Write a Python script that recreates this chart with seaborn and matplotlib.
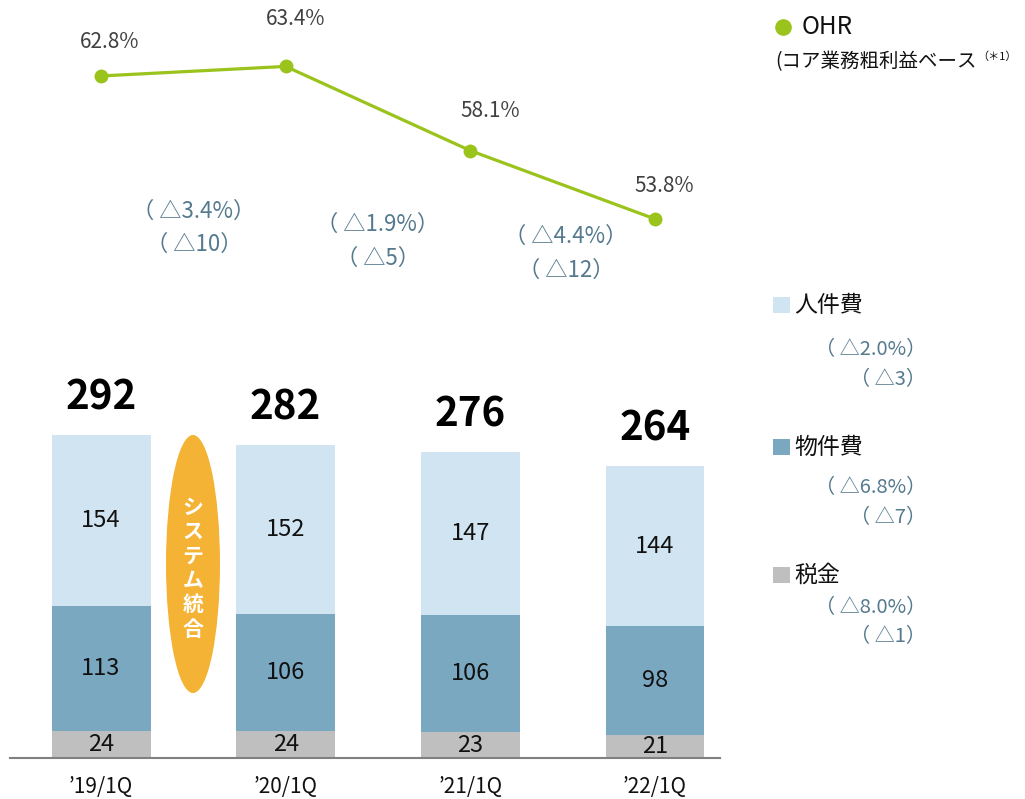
import numpy as np
import matplotlib
matplotlib.use("Agg")
import matplotlib.pyplot as plt
from matplotlib.patches import Ellipse, Rectangle
from matplotlib.lines import Line2D
import seaborn as sns

# data
periods = ["’19/1Q", "’20/1Q", "’21/1Q", "’22/1Q"]
tax = [24, 24, 23, 21]
property_cost = [113, 106, 106, 98]
personnel = [154, 152, 147, 144]
totals = [292, 282, 276, 264]
ohr = [62.8, 63.4, 58.1, 53.8]
yoy_pct = ["3.4%", "1.9%", "4.4%"]
yoy_amt = ["10", "5", "12"]
cost_names = ["人件費", "物件費", "税金"]
cost_pct = ["2.0%", "6.8%", "8.0%"]
cost_amt = ["3", "7", "1"]

# colors
C_PERS = "#d0e5f1"
C_PROP = "#7aa8c1"
C_TAX = "#bfbfbf"
C_LINE = "#9ac31c"
C_NOTE = "#557a8e"
C_ORANGE = "#f5b335"

W, H = 1025, 799


def px(x, y):
    return x / W, 1 - y / H


sns.set_theme(style="white")
plt.rcParams["font.family"] = ["Noto Sans CJK JP", "DejaVu Sans"]

fig = plt.figure(figsize=(W / 100, H / 100), dpi=100)
ax = fig.add_axes([10 / W, 1 - 758 / H, 710 / W, 758 / H])

bar_kws = dict(width=0.536, saturation=1, errorbar=None, edgecolor="none", linewidth=0, ax=ax)
bottom2 = np.array(tax)
bottom3 = bottom2 + np.array(property_cost)
sns.barplot(x=periods, y=tax, color=C_TAX, **bar_kws)
sns.barplot(x=periods, y=property_cost, bottom=bottom2, color=C_PROP, **bar_kws)
sns.barplot(x=periods, y=personnel, bottom=bottom3, color=C_PERS, **bar_kws)

for cont in ax.containers:
    ax.bar_label(cont, label_type="center", fontsize=17, color="#111111")

# totals above bars
for bar, t in zip(ax.containers[2], totals):
    ax.annotate(str(t), xy=(bar.get_x() + bar.get_width() / 2, bar.get_y() + bar.get_height()),
                xytext=(0, 37), textcoords="offset pixels", ha="center", va="center",
                fontsize=29, fontweight="bold", color="#000000")

ax.set_ylim(0, 758 / 1.1096)
ax.set(xlabel="", ylabel="", yticks=[])
for s in ["top", "left", "right"]:
    ax.spines[s].set_visible(False)
ax.spines["bottom"].set_color("#808080")
ax.spines["bottom"].set_linewidth(1.5)
ax.tick_params(axis="x", length=0, pad=13, labelsize=15, labelcolor="#111111")

# system integration ellipse
fig.add_artist(Ellipse(px(193, 564), 54 / W, 258 / H, transform=fig.transFigure,
                       facecolor=C_ORANGE, edgecolor="none"))
fig.text(*px(193, 568), "\n".join("システム統合"), ha="center", va="center",
         fontsize=15, fontweight="bold", color="white", linespacing=1.2)

# OHR line
ax2 = ax.twinx()
sns.lineplot(x=np.arange(len(periods)), y=ohr, ax=ax2, color=C_LINE, linewidth=2.3,
             marker="o", markersize=10, markeredgewidth=0)
ax2.set_ylim(19.88, 67.58)
ax2.set_yticks([])
ax2.set_ylabel("")
for s in ax2.spines.values():
    s.set_visible(False)
ax.set_xlim(-0.493, 3.352)

ohr_offsets = [(9, 34), (10, 47), (20, 40), (9, 33)]
for i, (v, off) in enumerate(zip(ohr, ohr_offsets)):
    ax2.annotate(f"{v}%", xy=(i, v), xytext=off, textcoords="offset pixels",
                 ha="center", va="center", fontsize=15, color="#404040")

# year-on-year change between bars
yoy_y = [(211, 244), (224, 258), (236, 270)]
yoy_x = [194, 378, 566]
for x, (y1, y2), p, a in zip(yoy_x, yoy_y, yoy_pct, yoy_amt):
    fig.text(*px(x, y1), f"（ △{p}）", ha="center", va="center", fontsize=16, color=C_NOTE)
    fig.text(*px(x, y2), f"（ △{a}）", ha="center", va="center", fontsize=16, color=C_NOTE)

# right-hand legend
fig.add_artist(Line2D([783 / W], [1 - 27 / H], marker="o", markersize=12, color=C_LINE,
                      markeredgewidth=0, transform=fig.transFigure))
fig.text(*px(802, 27), "OHR", ha="left", va="center", fontsize=17.5, color="#111111")
base = fig.text(*px(775, 62), "(コア業務粗利益ベース", ha="left", va="center", fontsize=14,
                color="#111111")
ax.annotate("（＊1）", xy=(1, 1), xycoords=base, xytext=(1, 0), textcoords="offset pixels",
            ha="left", va="top", fontsize=8, color="#111111", annotation_clip=False)

legend_y = [305, 447, 575]
note_y = [(350, 380), (488, 518), (608, 637)]
for name, col, y, (y1, y2), p, a in zip(cost_names, [C_PERS, C_PROP, C_TAX], legend_y, note_y,
                                          cost_pct, cost_amt):
    fig.add_artist(Rectangle(px(773, y + 8), 17 / W, 16 / H, transform=fig.transFigure,
                             facecolor=col, edgecolor="none"))
    fig.text(*px(794, y), name, ha="left", va="center", fontsize=16.5, color="#111111")
    fig.text(*px(926, y1), f"（ △{p}）", ha="right", va="center", fontsize=14.5, color=C_NOTE)
    fig.text(*px(926, y2), f"（ △{a}）", ha="right", va="center", fontsize=14.5, color=C_NOTE)

fig.savefig("out.png", dpi=100, facecolor="white")
